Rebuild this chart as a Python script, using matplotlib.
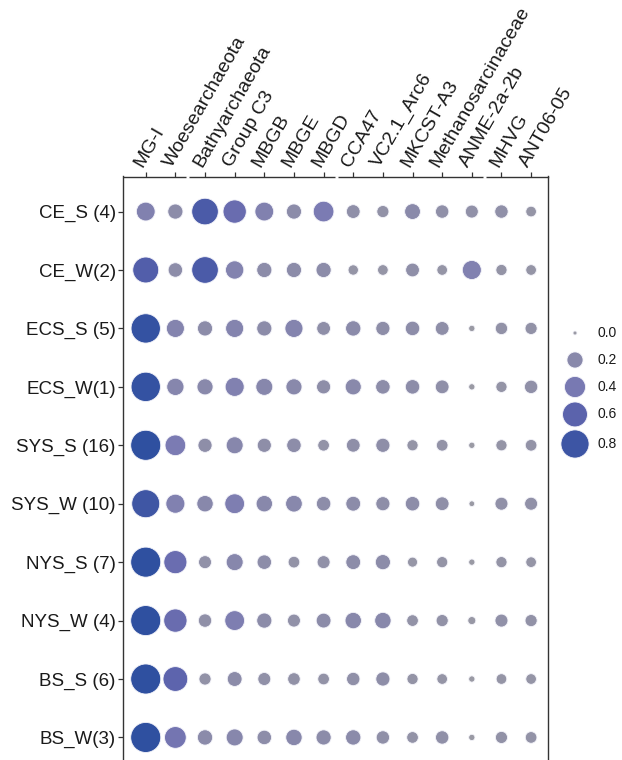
import numpy as np
import matplotlib
matplotlib.use("Agg")
import matplotlib.pyplot as plt
from matplotlib.colors import LinearSegmentedColormap, Normalize
import matplotlib.transforms as mtransforms

plt.rcParams['font.family'] = ['Liberation Sans', 'DejaVu Sans']

taxa = ["MG-I", "Woesearchaeota", "Bathyarchaeota", "Group C3", "MBGB", "MBGE",
        "MBGD", "CCA47", "VC2.1_Arc6", "MKCST-A3", "Methanosarcinaceae",
        "ANME-2a-2b", "MHVG", "ANT06-05"]

groups = ["CE_S (4)", "CE_W(2)", "ECS_S (5)", "ECS_W(1)", "SYS_S (16)",
          "SYS_W (10)", "NYS_S (7)", "NYS_W (4)", "BS_S (6)", "BS_W(3)"]

ce_s   = [0.30, 0.17, 0.70, 0.51, 0.30, 0.17, 0.38, 0.13, 0.09, 0.19, 0.12, 0.11, 0.12, 0.06]
ce_w   = [0.66, 0.15, 0.70, 0.28, 0.17, 0.17, 0.17, 0.055, 0.06, 0.13, 0.06, 0.31, 0.07, 0.06]
ecs_s  = [0.88, 0.27, 0.17, 0.27, 0.17, 0.27, 0.13, 0.175, 0.14, 0.15, 0.13, 0.007, 0.095, 0.09]
ecs_w  = [0.88, 0.24, 0.20, 0.31, 0.23, 0.20, 0.14, 0.20, 0.15, 0.15, 0.13, 0.007, 0.07, 0.12]
sys_s  = [0.93, 0.38, 0.14, 0.23, 0.14, 0.15, 0.08, 0.13, 0.14, 0.07, 0.08, 0.007, 0.07, 0.08]
sys_w  = [0.79, 0.31, 0.21, 0.34, 0.21, 0.22, 0.15, 0.16, 0.14, 0.15, 0.13, 0.004, 0.11, 0.11]
nys_s  = [0.93, 0.50, 0.11, 0.23, 0.15, 0.08, 0.11, 0.16, 0.17, 0.05, 0.07, 0.007, 0.07, 0.06]
nys_w  = [0.93, 0.51, 0.12, 0.34, 0.17, 0.11, 0.16, 0.21, 0.21, 0.08, 0.09, 0.022, 0.11, 0.09]
bs_s   = [0.93, 0.59, 0.09, 0.16, 0.11, 0.10, 0.08, 0.12, 0.14, 0.07, 0.06, 0.007, 0.06, 0.06]
bs_w   = [0.93, 0.43, 0.175, 0.23, 0.15, 0.21, 0.17, 0.175, 0.12, 0.08, 0.12, 0.007, 0.09, 0.08]

rows = [ce_s, ce_w, ecs_s, ecs_w, sys_s, sys_w, nys_s, nys_w, bs_s, bs_w]

legend_values = [0.0, 0.2, 0.4, 0.6, 0.8]
legend_labels = ["0.0", "0.2", "0.4", "0.6", "0.8"]

DPI = 100
W, H = 622, 760

cmap = LinearSegmentedColormap.from_list(
    "gb", [(0.0, "#9a9aa4"), (0.2, "#8a8aaa"), (0.4, "#7c7cb3"),
           (0.6, "#6266ae"), (0.8, "#4458a6"), (1.0, "#2f50a0")])
norm = Normalize(vmin=0.0, vmax=0.93)


def diam_px(v):
    return 4.0 + 27.0 * np.sqrt(np.asarray(v, dtype=float))


def marker_area(v):
    return (diam_px(v) * 72.0 / DPI) ** 2


fig = plt.figure(figsize=(W / DPI, H / DPI), dpi=DPI)
left_px, right_px, top_px, bottom_px = 123.5, 548.0, 176.5, 772.5
ax = fig.add_axes([left_px / W, 1 - bottom_px / H,
                   (right_px - left_px) / W, (bottom_px - top_px) / H])

vals = np.array(rows)
yy, xx = np.meshgrid(np.arange(len(groups)), np.arange(len(taxa)), indexing="ij")
ax.scatter(xx.ravel(), yy.ravel(), s=marker_area(vals.ravel()),
           c=vals.ravel(), cmap=cmap, norm=norm,
           edgecolors="#f4f4fa", linewidths=0.6, zorder=3, clip_on=False)

ax.set_xlim(-0.75, len(taxa) - 1 + 0.57)
ax.set_ylim(len(groups) - 1 + 0.6, -0.6)

ax.set_xticks(np.arange(len(taxa)))
ax.set_yticks(np.arange(len(groups)))
ax.set_yticklabels(groups, fontsize=13.5, color="#1a1a1a")
ax.xaxis.tick_top()
ax.set_xticklabels(taxa, fontsize=14, color="#1a1a1a", rotation=60,
                   ha="left", va="bottom", rotation_mode="anchor")
offset = mtransforms.ScaledTranslation(-0.5 / 72, 0, fig.dpi_scale_trans)
for lab in ax.get_xticklabels():
    lab.set_transform(lab.get_transform() + offset)

ax.tick_params(axis="both", length=3.5, width=0.9, color="#333333")
ax.tick_params(axis="x", pad=1)
ax.tick_params(axis="y", pad=2)
for sp in ax.spines.values():
    sp.set_color("#333333")
    sp.set_linewidth(1.0)

# small breaks in the top frame line, as in the reference
for gx in [1.42, 6.42, 11.44]:
    ax.plot([gx - 0.05, gx + 0.05], [1, 1], color="white", lw=2.0,
            transform=mtransforms.blended_transform_factory(ax.transData, ax.transAxes),
            clip_on=False, zorder=5, solid_capstyle="butt")

# legend (size + colour) drawn in pixel coordinates
lax = fig.add_axes([0, 0, 1, 1], facecolor="none")
lax.set_xlim(0, W)
lax.set_ylim(H, 0)
lax.axis("off")
ld = diam_px(legend_values)
kh = np.maximum(27.0, ld + 3.0)
ly = 333 + np.concatenate([[0], np.cumsum((kh[:-1] + kh[1:]) / 2)])
lax.scatter(np.full(len(legend_values), 575.0), ly, s=marker_area(legend_values),
            c=legend_values, cmap=cmap, norm=norm, edgecolors="#f4f4fa",
            linewidths=0.6)
for yv, t in zip(ly, legend_labels):
    lax.text(598, yv, t, fontsize=10, va="center", ha="left", color="#1a1a1a")

fig.savefig("out.png", dpi=DPI)
